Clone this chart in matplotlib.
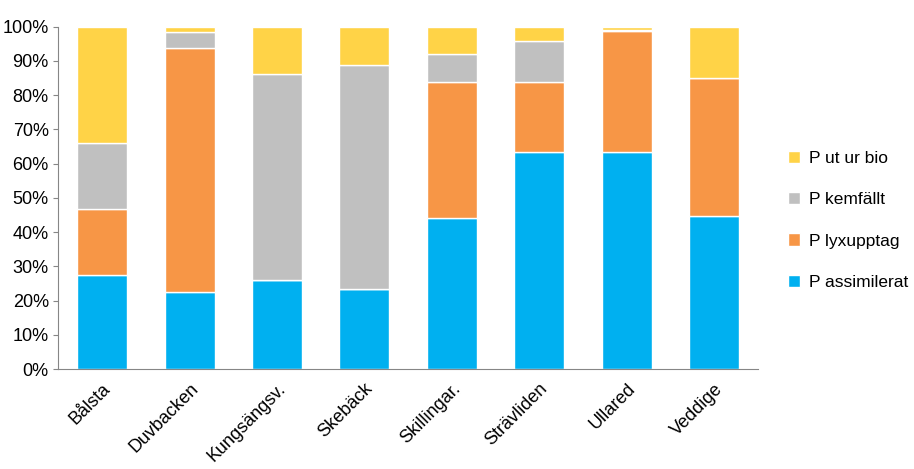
import matplotlib.pyplot as plt
import numpy as np
from matplotlib.ticker import PercentFormatter

plt.rcParams["font.family"] = "Liberation Sans"

sites = ["Bålsta", "Duvbacken", "Kungsängsv.", "Skebäck", "Skillingar.", "Strävliden", "Ullared", "Veddige"]
p_assim = [27.5, 22.5, 26.0, 23.4, 44.2, 63.5, 63.5, 44.7]
p_lyx = [19.3, 71.4, 0.0, 0.0, 39.7, 20.4, 35.3, 40.4]
p_kem = [19.3, 4.6, 60.3, 65.5, 8.2, 12.0, 0.2, 0.0]
p_ut = [33.9, 1.5, 13.7, 11.1, 7.9, 4.1, 1.0, 14.9]

series = [
    ("P assimilerat", p_assim, "#00B0F0"),
    ("P lyxupptag", p_lyx, "#F79646"),
    ("P kemfällt", p_kem, "#C0C0C0"),
    ("P ut ur bio", p_ut, "#FFD347"),
]

fig = plt.figure(figsize=(9.14, 4.69), dpi=100)
ax = fig.add_axes([0.064, 0.213, 0.765, 0.73])
x = np.arange(len(sites))
bottom = np.zeros(len(sites))
for label, vals, color in series:
    ax.bar(x, vals, 0.57, bottom=bottom, color=color, edgecolor="white", linewidth=1, label=label)
    bottom += np.array(vals)

ax.set_ylim(0, 100)
ax.set_xlim(-0.5, len(sites) - 0.5)
ax.set_yticks(range(0, 101, 10))
ax.yaxis.set_major_formatter(PercentFormatter(decimals=0))
ax.set_xticks(x)
ax.set_xticklabels(sites, rotation=45, ha="right", rotation_mode="anchor", fontsize=13)
ax.tick_params(axis="y", labelsize=13, direction="out", color="#868686")
ax.tick_params(axis="x", length=0, pad=8)
for s in ["top", "right"]:
    ax.spines[s].set_visible(False)
for s in ["left", "bottom"]:
    ax.spines[s].set_color("#868686")

h, l = ax.get_legend_handles_labels()
fig.legend(h[::-1], l[::-1], loc="center left", bbox_to_anchor=(0.845, 0.53),
           frameon=False, fontsize=12.5, handlelength=0.7, handleheight=0.7,
           labelspacing=1.5, handletextpad=0.5)

fig.savefig("out.png")
